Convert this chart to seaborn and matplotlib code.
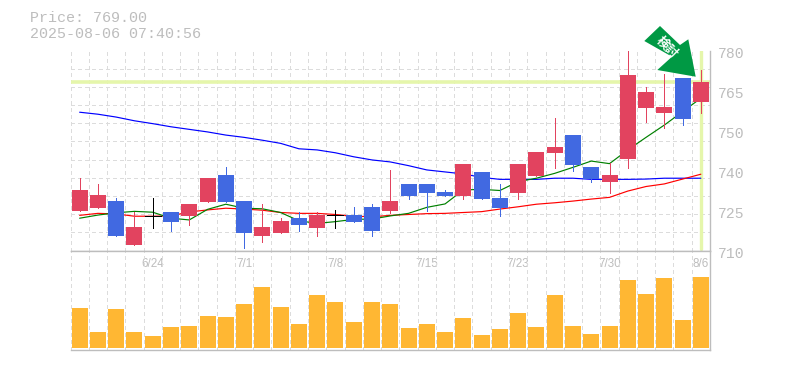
import matplotlib
matplotlib.use('Agg')
import matplotlib.pyplot as plt
import matplotlib.transforms as mtrans
from matplotlib.patches import Polygon
import numpy as np
import pandas as pd
import seaborn as sns

price_now = 769.00
stamp = "2025-08-06 07:40:56"

opens = [723.8, 724.9, 727.3, 711.9, 722.2, 723.5, 722.1, 727.0, 736.4, 727.3, 715.1, 716.1,
         721.4, 717.9, 722.5, 722.4, 725.2, 723.8, 733.3, 733.3, 730.5, 729.1, 737.5, 728.4,
         730.1, 736.1, 744.1, 750.4, 739.2, 734.0, 742.0, 759.9, 758.1, 770.4, 762.0]
highs = [735.4, 733.3, 728.4, 723.5, 728.4, 723.5, 726.3, 735.4, 739.2, 727.3, 726.3, 721.4,
         723.5, 723.5, 724.2, 725.2, 726.3, 738.2, 733.3, 733.3, 731.2, 740.3, 737.5, 733.3,
         740.3, 744.5, 756.4, 750.4, 739.2, 740.6, 780.0, 767.2, 771.8, 770.4, 773.2]
lows = [723.8, 724.9, 715.1, 711.9, 717.9, 716.8, 718.9, 727.0, 727.0, 710.9, 713.0, 716.1,
        716.8, 715.1, 717.9, 720.0, 715.1, 723.1, 728.0, 723.8, 729.1, 728.0, 728.0, 722.1,
        728.0, 736.1, 738.9, 737.8, 734.0, 730.1, 738.9, 755.0, 752.9, 753.9, 758.1]
closes = [731.2, 729.4, 715.1, 718.2, 722.2, 720.0, 726.3, 735.4, 727.0, 716.1, 718.2, 720.3,
          718.9, 722.4, 722.5, 720.0, 716.8, 727.3, 729.1, 730.1, 729.1, 740.3, 728.0, 724.9,
          740.3, 744.5, 746.2, 739.9, 735.0, 736.4, 771.4, 765.5, 760.2, 756.0, 769.0]

ma_short = [721.3, 722.4, 723.2, 723.7, 723.4, 721.3, 720.7, 724.4, 726.2, 724.8, 724.6, 723.3,
            720.4, 719.5, 720.1, 720.9, 721.0, 722.1, 723.0, 725.1, 726.3, 731.2, 731.4, 731.0,
            734.1, 735.3, 737.0, 739.1, 741.3, 740.4, 745.2, 749.6, 753.9, 758.6, 763.3]
ma_mid = [722.3, 723.0, 722.8, 722.0, 722.0, 722.1, 723.5, 724.2, 724.8, 724.5, 724.1, 723.3,
          723.0, 723.0, 722.6, 722.0, 721.8, 722.3, 722.6, 722.9, 723.0, 723.3, 723.6, 724.5,
          725.3, 726.2, 726.7, 727.3, 728.0, 728.6, 730.8, 732.4, 733.3, 735.0, 736.7]
ma_long = [758.4, 757.7, 756.7, 755.4, 754.4, 753.3, 752.4, 751.5, 750.4, 749.6, 748.6, 747.5,
           745.6, 745.2, 744.2, 742.8, 741.7, 741.0, 739.7, 738.2, 737.5, 736.8, 735.6, 734.9,
           734.9, 734.9, 735.3, 735.3, 734.9, 734.9, 734.9, 735.0, 735.3, 735.3, 735.3]

volumes = [40, 16, 39, 16, 12, 21, 22, 32, 31, 44, 61, 41, 24, 53, 46, 26, 46, 44,
           20, 24, 16, 30, 13, 19, 35, 21, 53, 22, 14, 22, 68, 54, 70, 28, 71]

date_pos = [4, 9, 14, 19, 24, 29, 34]
date_labels = ["6/24", "7/1", "7/8", "7/15", "7/23", "7/30", "8/6"]
price_ticks = [780, 766, 752, 738, 724, 710]
price_labels = ["780", "765", "750", "740", "725", "710"]

W, H = 785, 370
GREY = "#bdbdbd"
GRID = "#dcdcdc"
UP = "#e2435f"
DOWN = "#4169e1"
VOL = "#ffb733"
MARK = "#e5f6ab"
ARROW = "#009944"
MONO = "Liberation Mono"
PX = 0.72  # one pixel at dpi 100

sns.set_theme(style="white")
plt.rcParams['font.family'] = ['Liberation Sans', 'Noto Sans CJK JP', 'DejaVu Sans']

df = pd.DataFrame({"i": np.arange(len(opens)), "open": opens, "high": highs, "low": lows,
                   "close": closes, "short": ma_short, "mid": ma_mid, "long": ma_long,
                   "volume": volumes})

fig = plt.figure(figsize=(W / 100, H / 100), dpi=100, facecolor="white")
ax = fig.add_axes([70.5 / W, (H - 250.5) / H, 639.5 / W, 200 / H])
ax_vol = fig.add_axes([70.5 / W, (H - 350) / H, 639.5 / W, 99.5 / H])


def style_grid(a):
    a.set_axisbelow(True)
    a.set_xticks(np.arange(-0.5, len(df)), minor=True)
    a.grid(which="minor", axis="x", color=GRID, linestyle=(0, (3, 3)), linewidth=PX, antialiased=False)
    a.tick_params(which="both", length=0)
    a.set_xlim(-0.5, len(df) - 0.5)
    a.set_xlabel("")
    a.set_ylabel("")
    for side, sp in a.spines.items():
        sp.set_color(GREY)
        sp.set_linewidth(1.0)


# price panel
ax.set_ylim(710, 780)
ax.axhline(price_now, color=MARK, lw=2.6, zorder=1.5)
ax.plot([df.i.iloc[-1]] * 2, [710.6, 780], color=MARK, lw=2.4, zorder=1.5)

for col, c in [("long", "#0000ff"), ("mid", "#ff0000"), ("short", "#008000")]:
    sns.lineplot(data=df, x="i", y=col, color=c, ax=ax, linewidth=0.85, estimator=None, zorder=2)

for row in df.itertuples():
    if row.close > row.open:
        c = UP
    elif row.close < row.open:
        c = DOWN
    else:
        c = "black"
    ax.vlines(row.i, row.low, row.high, color=c, lw=PX, zorder=3, antialiased=False)
    if c == "black":
        ax.hlines(row.open, row.i - 0.44, row.i + 0.44, color=c, lw=PX, zorder=3, antialiased=False)
    else:
        ax.bar(row.i, abs(row.close - row.open), bottom=min(row.open, row.close), width=0.875,
               color=c, linewidth=0, zorder=3)

style_grid(ax)
ax.set_yticks(np.linspace(710, 780, 12), minor=True)
ax.grid(which="minor", axis="y", color=GRID, linestyle=(0, (3, 3)), linewidth=PX, antialiased=False)
ax.set_xticks([])
ax.yaxis.tick_right()
ax.set_yticks(price_ticks)
ax.set_yticklabels(price_labels, family=MONO, fontsize=10.6, color=GREY)
ax.tick_params(axis="y", which="major", pad=6)
shift = mtrans.ScaledTranslation(0, -1.5 / 72, fig.dpi_scale_trans)
for lab in ax.get_yticklabels():
    lab.set_transform(lab.get_transform() + shift)
ax.spines["top"].set_visible(False)
ax.spines["left"].set_visible(False)

# volume panel
sns.barplot(data=df, x="i", y="volume", ax=ax_vol, color=VOL, saturation=1, width=0.875,
            native_scale=True, linewidth=0, zorder=2)
ax_vol.set_ylim(-2, 97.5)
style_grid(ax_vol)
ax_vol.set_yticks([])
ax_vol.xaxis.tick_top()
ax_vol.set_xticks(date_pos)
ax_vol.set_xticklabels(date_labels, fontsize=8.4, color=GREY)
ax_vol.tick_params(axis="x", which="major", pad=-14)
ax_vol.spines["left"].set_visible(False)

# header text
fig.text(30 / W, 1 - 18.5 / H, f"Price: {price_now:.2f}", family=MONO, fontsize=10.8, color=GREY, va="center")
fig.text(30 / W, 1 - 33.5 / H, stamp, family=MONO, fontsize=10.8, color=GREY, va="center")

# green arrow badge
arrow_px = [(660, 26), (644.3, 41), (672, 56.7), (657.3, 70), (695.7, 76.7), (688.3, 39.3), (680, 45)]
fig.add_artist(Polygon([(x / W, 1 - y / H) for x, y in arrow_px], closed=True, facecolor=ARROW,
                       edgecolor="none", transform=fig.transFigure, zorder=5))
fig.text(666.5 / W, 1 - 48 / H, "検討", color="white", fontsize=9, fontweight="bold", rotation=-45,
         ha="center", va="center", zorder=6, family="Noto Sans CJK JP")

fig.savefig("out.png", dpi=100, facecolor="white")
